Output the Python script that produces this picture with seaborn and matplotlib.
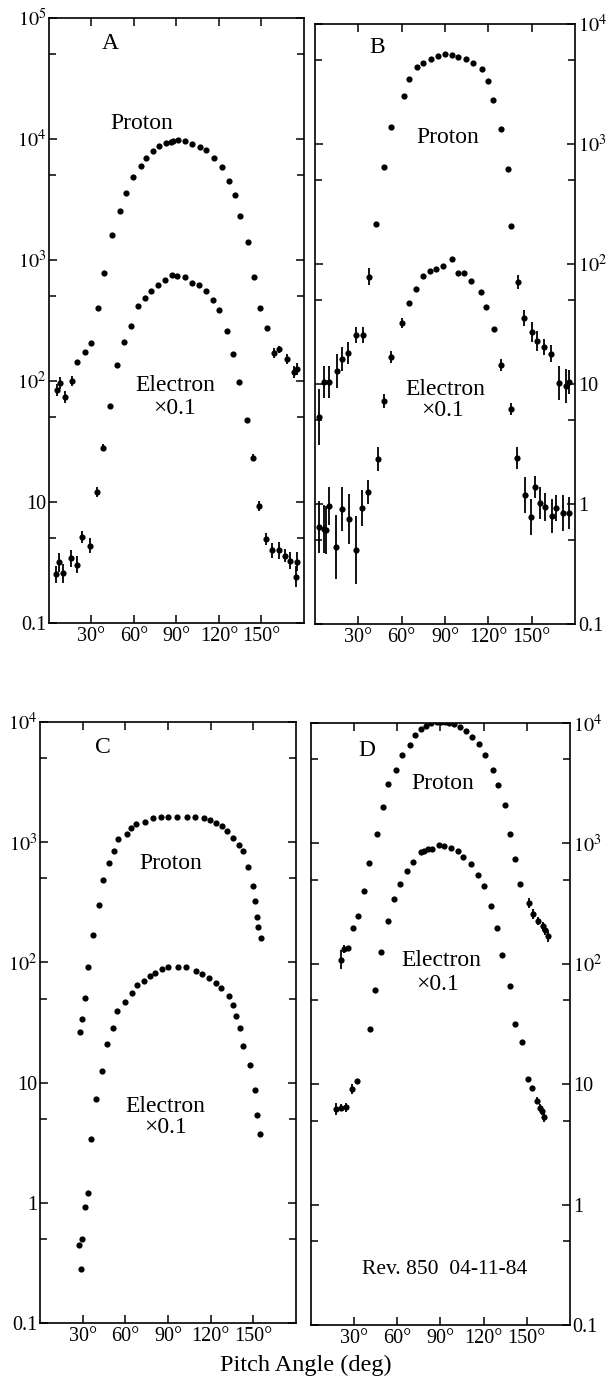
import numpy as np
import matplotlib
matplotlib.use("Agg")
import matplotlib.pyplot as plt
import seaborn as sns
from matplotlib.ticker import FixedLocator, NullFormatter

# -----------------------------
# DATA
# -----------------------------

# Panel A
a_proton_deg = [5.5, 7.9, 11.5, 16.1, 19.6, 25.1, 29.7, 34.6, 38.5, 44.2, 49.8, 54.3, 59.4,
                64.7, 68.3, 73.1, 77.6, 82.5, 85.9, 87.5, 91.1, 96.2, 101.0, 106.4, 111.1,
                116.5, 121.8, 127.3, 131.0, 134.8, 140.3, 144.8, 148.9, 154.0, 158.6, 162.4,
                168.1, 172.9, 175.1]
a_proton_val = [84, 96, 74, 100, 144, 173, 205, 404, 786, 1597, 2550, 3610, 4810, 6030, 6960,
                7910, 8730, 9270, 9490, 9630, 9850, 9550, 9060, 8600, 8100, 6960, 5890, 4460,
                3420, 2330, 1406, 728, 404, 273, 170, 183, 151, 119, 125]
a_proton_err = [0.05, 0.05, 0.05, 0.04, 0, 0, 0, 0, 0, 0, 0, 0, 0, 0, 0, 0, 0, 0, 0, 0, 0, 0,
                0, 0, 0, 0, 0, 0, 0, 0, 0, 0, 0, 0, 0.04, 0.03, 0.04, 0.05, 0.05]
a_electron_deg = [5.0, 7.1, 10.0, 15.3, 20.1, 23.6, 29.3, 33.9, 38.2, 43.2, 48.2, 53.1, 57.7,
                  62.9, 68.0, 72.1, 77.2, 82.0, 86.5, 90.5, 95.9, 100.9, 105.6, 110.7, 115.5,
                  120.3, 125.4, 129.6, 134.1, 139.6, 144.2, 148.3, 153.3, 157.6, 162.3, 166.8,
                  170.4, 174.1, 175.3]
a_electron_val = [2.53, 3.18, 2.57, 3.42, 3.03, 5.14, 4.36, 12.1, 28.1, 62.1, 135, 211, 283,
                  413, 481, 555, 621, 685, 750, 739, 723, 650, 621, 555, 470, 383, 261, 168,
                  98, 48, 23.3, 9.27, 4.95, 3.98, 3.98, 3.61, 3.27, 2.42, 3.22]
a_electron_err = [0.07, 0.08, 0.08, 0.07, 0.07, 0.05, 0.06, 0.04, 0.03, 0, 0, 0, 0, 0, 0, 0,
                  0, 0, 0, 0, 0, 0, 0, 0, 0, 0, 0, 0, 0, 0, 0.03, 0.04, 0.05, 0.06, 0.07,
                  0.05, 0.07, 0.09, 0.08]

# Panel B
b_proton_deg = [2.9, 6.0, 9.5, 14.9, 18.9, 23.0, 28.3, 33.2, 37.3, 42.2, 47.7, 52.8, 61.4,
                65.4, 70.8, 74.9, 80.4, 85.3, 90.1, 95.0, 99.2, 104.8, 109.7, 115.4, 119.7,
                123.5, 128.7, 133.4, 135.5, 140.4, 145.0, 150.1, 153.7, 158.6, 163.5, 168.8,
                173.7, 175.8]
b_proton_val = [5.3, 10.4, 10.4, 12.8, 16.2, 18.1, 25.6, 25.6, 78, 215, 643, 1387, 2512, 3480,
                4380, 4730, 5110, 5410, 5620, 5520, 5310, 5110, 4730, 4220, 3350, 2330, 1334,
                619, 207, 70.8, 35.5, 27.1, 22.8, 20.3, 17.8, 10.2, 9.6, 10.4]
b_proton_err = [0.23, 0.13, 0.13, 0.14, 0.10, 0.09, 0.07, 0.07, 0.07, 0, 0, 0, 0, 0, 0, 0, 0,
                0, 0, 0, 0, 0, 0, 0, 0, 0, 0, 0, 0, 0.06, 0.07, 0.08, 0.08, 0.07, 0.07, 0.14,
                0.14, 0.10]
b_electron_deg = [2.9, 6.5, 7.8, 9.6, 14.3, 18.7, 23.7, 28.3, 32.6, 36.6, 43.8, 48.0, 52.3,
                  60.2, 64.8, 70.2, 74.9, 79.7, 83.9, 88.7, 94.9, 99.2, 103.3, 108.3, 114.7,
                  118.4, 123.6, 128.9, 135.8, 139.9, 145.2, 149.6, 152.1, 155.7, 159.3, 164.2,
                  166.9, 171.9, 176.1]
b_electron_val = [0.643, 0.619, 0.607, 0.962, 0.438, 0.908, 0.750, 0.414, 0.926, 1.26, 2.37,
                  7.2, 16.8, 32.2, 47.3, 61.9, 79.4, 87.4, 90.8, 96.2, 110, 84.1, 84.1, 72.1,
                  58.5, 43.8, 28.7, 14.4, 6.19, 2.42, 1.19, 0.78, 1.39, 1.02, 0.944, 0.794,
                  0.926, 0.84, 0.84]
b_electron_err = [0.22, 0.20, 0.20, 0.16, 0.27, 0.18, 0.21, 0.28, 0.15, 0.10, 0.10, 0.06, 0.05,
                  0.04, 0, 0, 0, 0, 0, 0, 0, 0, 0, 0, 0, 0, 0, 0.05, 0.05, 0.09, 0.15, 0.15,
                  0.09, 0.13, 0.12, 0.14, 0.11, 0.15, 0.13]

# Panel C
c_proton_deg = [27.9, 29.3, 31.3, 33.8, 37.1, 41.2, 44.6, 48.7, 52.2, 55.0, 61.3, 64.1, 67.6,
                74.0, 79.7, 85.4, 90.3, 96.0, 103.1, 108.8, 115.2, 119.5, 123.7, 128.0, 131.6,
                135.9, 140.2, 142.4, 146.0, 149.7, 151.3, 152.8, 153.5, 155.1]
c_proton_val = [26.1, 33.5, 50.1, 90.8, 168, 299, 482, 668, 841, 1059, 1166, 1308, 1413, 1468,
                1585, 1616, 1616, 1616, 1616, 1616, 1585, 1525, 1440, 1360, 1236, 1080, 944,
                841, 619, 430, 322, 237, 196, 158]
c_electron_deg = [27.3, 28.9, 29.4, 31.3, 34.0, 35.8, 39.1, 43.8, 47.2, 51.3, 54.0, 59.7, 64.6,
                  68.0, 73.0, 77.2, 80.8, 85.7, 89.9, 97.0, 102.7, 109.9, 114.1, 118.5, 123.4,
                  127.1, 132.7, 135.7, 137.9, 140.8, 143.0, 147.4, 151.2, 152.8, 155.0]
c_electron_val = [0.447, 0.282, 0.501, 0.926, 1.21, 3.41, 7.36, 12.4, 21.1, 28.2, 39.1, 46.4,
                  55.2, 64.3, 69.5, 76.4, 80.9, 87.4, 90.8, 90.8, 90.8, 84.1, 79.4, 73.6, 66.8,
                  60.7, 52.1, 43.8, 35.5, 28.2, 20.0, 13.9, 8.75, 5.41, 3.76]

# Panel D
d_proton_deg = [20.8, 23.0, 26.0, 29.3, 33.0, 36.7, 40.6, 45.6, 50.3, 53.7, 58.8, 63.0, 68.5,
                72.6, 76.2, 79.7, 83.7, 87.4, 90.1, 93.0, 96.2, 99.5, 103.8, 107.7, 112.2,
                116.6, 121.1, 126.8, 130.2, 134.6, 138.5, 142.0, 145.3, 151.3, 154.6, 157.5,
                161.3, 162.9, 164.6]
d_proton_val = [108, 133, 135, 200, 248, 405, 684, 1189, 2000, 3133, 4080, 5480, 6610, 8010,
                8940, 9530, 9960, 10160, 10300, 10160, 10050, 9850, 9350, 8650, 7710, 6700,
                5450, 4080, 3040, 2090, 1205, 740, 460, 321, 258, 227, 205, 190, 169]
d_proton_err = [0.08, 0.03, 0.02, 0, 0, 0, 0, 0, 0, 0, 0, 0, 0, 0, 0, 0, 0, 0, 0, 0, 0, 0, 0,
                0, 0, 0, 0, 0, 0, 0, 0, 0, 0, 0.04, 0.04, 0.03, 0.04, 0.04, 0.05]
d_electron_deg = [17.5, 21.2, 24.0, 28.5, 31.9, 40.7, 44.3, 48.9, 53.2, 57.6, 61.9, 66.4, 71.0,
                  76.2, 78.5, 81.5, 83.9, 89.0, 92.5, 97.1, 102.4, 105.8, 111.2, 116.0, 120.0,
                  124.9, 129.3, 133.0, 138.5, 141.9, 146.6, 150.8, 153.4, 157.0, 159.4, 160.6,
                  162.3]
d_electron_val = [6.18, 6.38, 6.43, 9.09, 10.7, 29.0, 60.8, 125, 225, 345, 465, 595, 707, 846,
                  873, 896, 908, 962, 944, 921, 873, 778, 671, 547, 443, 303, 200, 119, 64.9,
                  31.8, 22.3, 11.0, 9.27, 7.31, 6.38, 5.98, 5.37]
d_electron_err = [0.05, 0.03, 0.04, 0.04, 0, 0, 0, 0, 0, 0, 0, 0, 0, 0, 0, 0, 0, 0, 0, 0, 0, 0,
                  0, 0, 0, 0, 0, 0, 0, 0, 0, 0, 0.02, 0.03, 0.03, 0.03, 0.04]

angle_ticks = [30, 60, 90, 120, 150]
angle_labels = ["30°", "60°", "90°", "120°", "150°"]

a_yticks = [1, 10, 100, 1e3, 1e4, 1e5]
a_ylabels = ["0.1", "10", r"$10^{2}$", r"$10^{3}$", r"$10^{4}$", r"$10^{5}$"]
bcd_yticks = [0.1, 1, 10, 100, 1e3, 1e4]
bcd_ylabels = ["0.1", "1", "10", r"$10^{2}$", r"$10^{3}$", r"$10^{4}$"]

# -----------------------------
# STYLE
# -----------------------------

sns.set_theme(style="ticks")
plt.rcParams["font.family"] = ["Liberation Serif", "DejaVu Serif"]
plt.rcParams["mathtext.fontset"] = "stix"
plt.rcParams["axes.linewidth"] = 1.2


def draw_errors(ax, deg, val, err):
    deg = np.asarray(deg, dtype=float)
    val = np.asarray(val, dtype=float)
    err = np.asarray(err, dtype=float)
    m = err > 0
    ax.vlines(deg[m], val[m] * 10 ** (-err[m]), val[m] * 10 ** err[m],
              color="black", lw=1.3, zorder=3)


def draw_panel(ax, p_deg, p_val, e_deg, e_val, ylim, yticks, ylabels, side,
               p_err=None, e_err=None):
    ax.set_yscale("log")
    sns.scatterplot(x=p_deg, y=p_val, ax=ax, color="black", s=20,
                    linewidth=0, legend=False, zorder=4)
    sns.scatterplot(x=e_deg, y=e_val, ax=ax, color="black", s=20,
                    linewidth=0, legend=False, zorder=4)
    if p_err is not None:
        draw_errors(ax, p_deg, p_val, p_err)
    if e_err is not None:
        draw_errors(ax, e_deg, e_val, e_err)

    ax.set_xlim(0, 180)
    ax.set_ylim(*ylim)
    ax.set_xticks(angle_ticks)
    ax.set_xticklabels(angle_labels)
    ax.yaxis.set_major_locator(FixedLocator(yticks))
    ax.set_yticklabels(ylabels)
    minors = [5 * t for t in yticks[:-1]]
    ax.yaxis.set_minor_locator(FixedLocator(minors))
    ax.yaxis.set_minor_formatter(NullFormatter())
    ax.set_xlabel("")
    ax.set_ylabel("")

    ax.tick_params(which="both", direction="in", top=True, right=True,
                   left=True, bottom=True, colors="black", labelsize=14.5)
    ax.tick_params(which="major", length=6, width=1.1, pad=3)
    ax.tick_params(which="minor", length=5, width=1.1)
    if side == "right":
        ax.tick_params(axis="y", labelleft=False, labelright=True, pad=2)
    else:
        ax.tick_params(axis="y", labelleft=True, labelright=False, pad=2)
    for sp in ax.spines.values():
        sp.set_color("black")
        sp.set_linewidth(1.2)


fig = plt.figure(figsize=(6.13, 13.82), dpi=100)
fig.patch.set_facecolor("white")

ax_a = fig.add_axes([0.0799, 0.5492, 0.416, 0.4378])
ax_b = fig.add_axes([0.5139, 0.5485, 0.4241, 0.4342])
ax_c = fig.add_axes([0.0653, 0.0427, 0.4176, 0.4349])
ax_d = fig.add_axes([0.5073, 0.0412, 0.4225, 0.4356])

# -----------------------------
# PANELS
# -----------------------------

draw_panel(ax_a, a_proton_deg, a_proton_val, a_electron_deg, a_electron_val,
           (1, 1e5), a_yticks, a_ylabels, "left", a_proton_err, a_electron_err)
draw_panel(ax_b, b_proton_deg, b_proton_val, b_electron_deg, b_electron_val,
           (0.1, 1e4), bcd_yticks, bcd_ylabels, "right", b_proton_err, b_electron_err)
draw_panel(ax_c, c_proton_deg, c_proton_val, c_electron_deg, c_electron_val,
           (0.1, 1e4), bcd_yticks, bcd_ylabels, "left")
draw_panel(ax_d, d_proton_deg, d_proton_val, d_electron_deg, d_electron_val,
           (0.1, 1e4), bcd_yticks, bcd_ylabels, "right", d_proton_err, d_electron_err)

txt = dict(ha="center", va="center", fontsize=17, color="black")

ax_a.text(0.24, 0.957, "A", transform=ax_a.transAxes, **txt)
ax_a.text(0.365, 0.826, "Proton", transform=ax_a.transAxes, **txt)
ax_a.text(0.494, 0.393, "Electron", transform=ax_a.transAxes, **txt)
ax_a.text(0.494, 0.355, "×0.1", transform=ax_a.transAxes, **txt)

ax_b.text(0.24, 0.96, "B", transform=ax_b.transAxes, **txt)
ax_b.text(0.51, 0.81, "Proton", transform=ax_b.transAxes, **txt)
ax_b.text(0.50, 0.39, "Electron", transform=ax_b.transAxes, **txt)
ax_b.text(0.49, 0.355, "×0.1", transform=ax_b.transAxes, **txt)

ax_c.text(0.246, 0.957, "C", transform=ax_c.transAxes, **txt)
ax_c.text(0.51, 0.765, "Proton", transform=ax_c.transAxes, **txt)
ax_c.text(0.49, 0.36, "Electron", transform=ax_c.transAxes, **txt)
ax_c.text(0.49, 0.325, "×0.1", transform=ax_c.transAxes, **txt)

ax_d.text(0.216, 0.955, "D", transform=ax_d.transAxes, **txt)
ax_d.text(0.51, 0.90, "Proton", transform=ax_d.transAxes, **txt)
ax_d.text(0.505, 0.606, "Electron", transform=ax_d.transAxes, **txt)
ax_d.text(0.49, 0.566, "×0.1", transform=ax_d.transAxes, **txt)
ax_d.text(0.517, 0.093, "Rev. 850  04-11-84", transform=ax_d.transAxes,
          ha="center", va="center", fontsize=15.5, color="black")

fig.text(0.499, 0.012, "Pitch Angle (deg)", ha="center", va="center",
         fontsize=17.5, color="black")

plt.savefig("out.png", dpi=100, facecolor="white")
